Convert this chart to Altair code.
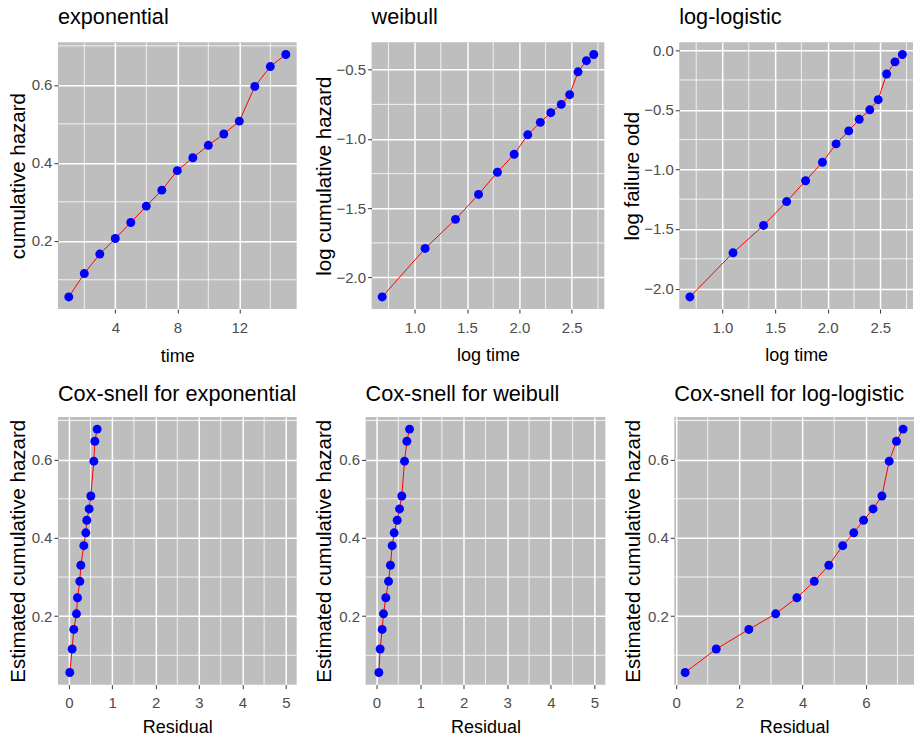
import altair as alt
import pandas as pd

# ---- data ----
time = [1, 2, 3, 4, 5, 6, 7, 8, 9, 10, 11, 12, 13, 14, 15]
cum_hazard = [0.056, 0.116, 0.166, 0.206, 0.247, 0.289, 0.330, 0.380, 0.413,
              0.445, 0.474, 0.507, 0.596, 0.647, 0.678]

log_time = [0.69, 1.10, 1.39, 1.61, 1.79, 1.95, 2.08, 2.20, 2.30, 2.40,
            2.48, 2.56, 2.64, 2.71]
log_cum_hazard = [-2.14, -1.79, -1.58, -1.40, -1.24, -1.11, -0.97, -0.88,
                  -0.81, -0.75, -0.68, -0.515, -0.435, -0.39]
log_failure_odd = [-2.07, -1.70, -1.47, -1.27, -1.095, -0.94, -0.786, -0.677,
                   -0.58, -0.50, -0.415, -0.20, -0.098, -0.036]

cs_exponential = [0.023, 0.077, 0.115, 0.177, 0.200, 0.254, 0.277, 0.346,
                  0.392, 0.415, 0.469, 0.508, 0.577, 0.600, 0.654]
cs_weibull = [0.054, 0.084, 0.130, 0.160, 0.214, 0.276, 0.320, 0.360, 0.406,
              0.475, 0.528, 0.580, 0.643, 0.697, 0.758]
cs_loglogistic = [0.287, 1.27, 2.30, 3.15, 3.82, 4.37, 4.83, 5.27, 5.62,
                  5.93, 6.23, 6.51, 6.74, 6.97, 7.18]

FONT = "Liberation Sans"
BG = "#BEBEBE"


def expand(vals, mult=0.05):
    lo, hi = min(vals), max(vals)
    r = hi - lo
    return [lo - mult * r, hi + mult * r]


def panel(xv, yv, title, xtitle, ytitle, xdom, ydom, xmaj, xmin, ymaj, ymin,
          w, h, ytoff, xtoff, toff):
    df = pd.DataFrame({"x": xv, "y": yv})
    xs = alt.Scale(domain=xdom, nice=False, zero=False)
    ys = alt.Scale(domain=ydom, nice=False, zero=False)
    xax = alt.Axis(values=xmaj, titleX=w / 2, titleY=xtoff,
                   titleBaseline="alphabetic", labelPadding=7,
                   titleFontSize=18)
    yax = alt.Axis(values=ymaj, titleX=-ytoff, titleY=h / 2,
                   titleBaseline="middle", titleAlign="center", titleAngle=270,
                   titleFontSize=20.5)
    vminor = alt.Chart(pd.DataFrame({"v": xmin})).mark_rule(
        color="white", strokeWidth=0.8).encode(
        x=alt.X("v:Q", scale=xs, title=xtitle, axis=xax))
    hminor = alt.Chart(pd.DataFrame({"v": ymin})).mark_rule(
        color="white", strokeWidth=0.8).encode(
        y=alt.Y("v:Q", scale=ys, title=ytitle, axis=yax))
    enc_x = alt.X("x:Q", scale=xs, title=xtitle, axis=xax)
    enc_y = alt.Y("y:Q", scale=ys, title=ytitle, axis=yax)
    line = alt.Chart(df).mark_line(color="#FF0000", strokeWidth=1).encode(
        x=enc_x, y=enc_y)
    pts = alt.Chart(df).mark_circle(color="#0000FF", opacity=1, size=80).encode(
        x=enc_x, y=enc_y)
    return alt.layer(vminor, hminor, line, pts).properties(
        width=w, height=h,
        title=alt.TitleParams(title, anchor="start", frame="group",
                              baseline="alphabetic", offset=toff))


ch_ydom = expand(cum_hazard)
ch_ymaj = [0.2, 0.4, 0.6]
ch_ymin = [0.1, 0.3, 0.5, 0.7]
lt_xdom = expand(log_time)
lt_xmaj = [1.0, 1.5, 2.0, 2.5]
lt_xmin = [0.75, 1.25, 1.75, 2.25, 2.75]

H = 267
TOP_OFF = -4
p1 = panel(time, cum_hazard, "exponential", "time", "cumulative hazard",
           expand(time), ch_ydom, [4, 8, 12], [2, 6, 10, 14], ch_ymaj, ch_ymin,
           239, H, 39, 52, TOP_OFF)
p2 = panel(log_time, log_cum_hazard, "weibull", "log time",
           "log cumulative hazard", lt_xdom, expand(log_cum_hazard),
           lt_xmaj, lt_xmin, [-2.0, -1.5, -1.0, -0.5], [-1.75, -1.25, -0.75],
           233, H, 47, 51, TOP_OFF)
p3 = panel(log_time, log_failure_odd, "log-logistic", "log time",
           "log failure odd", lt_xdom, expand(log_failure_odd),
           lt_xmaj, lt_xmin, [-2.0, -1.5, -1.0, -0.5, 0.0],
           [-1.75, -1.25, -0.75, -0.25], 234, H, 46.5, 51, TOP_OFF)

cs_xdom = [-0.25, 5.25]
cs_xmaj = [0, 1, 2, 3, 4, 5]
cs_xmin = [0.5, 1.5, 2.5, 3.5, 4.5]
H2 = 268
BOT_OFF = -6.5
p4 = panel(cs_exponential, cum_hazard, "Cox-snell for exponential", "Residual",
           "Estimated cumulative hazard", cs_xdom, ch_ydom, cs_xmaj, cs_xmin,
           ch_ymaj, ch_ymin, 239, H2, 39, 48, BOT_OFF)
p5 = panel(cs_weibull, cum_hazard, "Cox-snell for weibull", "Residual",
           "Estimated cumulative hazard", cs_xdom, ch_ydom, cs_xmaj, cs_xmin,
           ch_ymaj, ch_ymin, 240, H2, 41, 48, BOT_OFF)
p6 = panel(cs_loglogistic, cum_hazard, "Cox-snell for log-logistic",
           "Residual", "Estimated cumulative hazard", expand(cs_loglogistic),
           ch_ydom, [0, 2, 4, 6], [1, 3, 5, 7], ch_ymaj, ch_ymin, 240, H2, 41,
           48, BOT_OFF)

top = alt.hconcat(p1, p2, p3, spacing=75, bounds="flush")
bottom = alt.hconcat(p4, p5, p6, spacing=69, bounds="flush")

chart = alt.vconcat(top, bottom, spacing=19).properties(
    padding={"left": 8, "top": 6, "right": 0, "bottom": 0}
).configure_view(
    fill=BG, stroke=None
).configure_axis(
    grid=True, gridColor="white", gridWidth=1.5, domain=False,
    tickColor="#333333", tickSize=4, tickWidth=1,
    labelColor="#4D4D4D", labelFont=FONT, labelFontSize=15, labelPadding=2,
    labelFlush=False, labelOverlap=False,
    titleFont=FONT, titleFontSize=19, titleFontWeight="normal",
    titleColor="black"
).configure_title(
    font=FONT, fontSize=21.7, fontWeight="normal", color="black"
)

chart.save("out.html", embed_options={"renderer": "svg", "actions": False})
